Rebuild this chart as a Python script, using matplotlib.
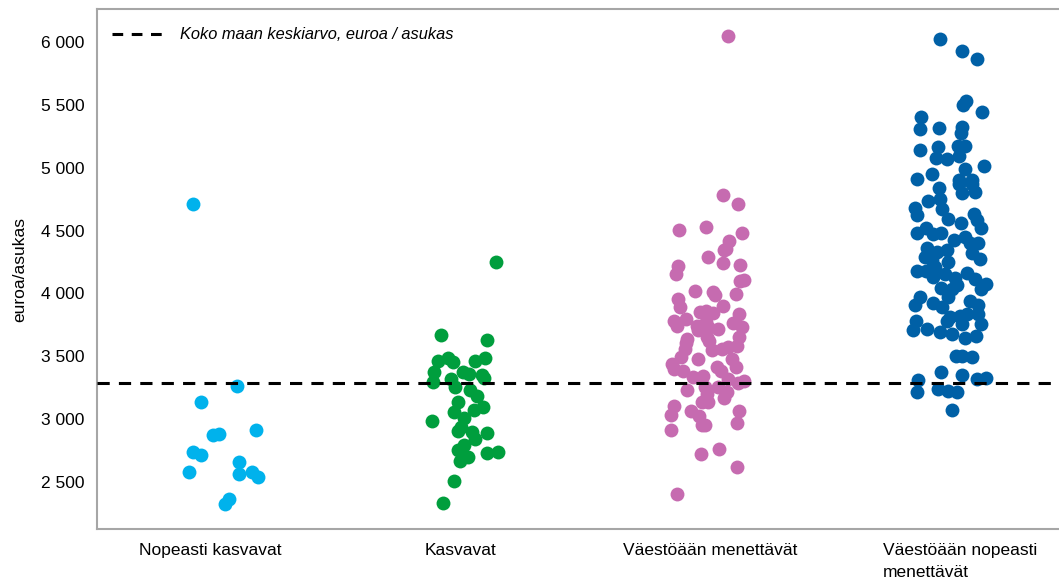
import numpy as np
import matplotlib
matplotlib.use("Agg")
import matplotlib.pyplot as plt
from matplotlib.lines import Line2D
from matplotlib.ticker import FuncFormatter

plt.rcParams["font.family"] = ["Liberation Sans", "DejaVu Sans"]

categories = ["Nopeasti kasvavat", "Kasvavat", "Väestöään menettävät",
              "Väestöään nopeasti\nmenettävät"]
colors = ["#00b2ec", "#009e3d", "#c66bb0", "#0060a6"]
national_mean = 3285
legend_label = "Koko maan keskiarvo, euroa / asukas"
y_label = "euroa/asukas"

# values (euroa/asukas) and horizontal jitter (category units) per group
vals_fast_growth = [4709, 3266, 3133, 2876, 2881, 2913, 2740, 2711, 2583, 2663,
                    2563, 2583, 2541, 2366, 2323]
jit_fast_growth = [-0.07, 0.107, -0.037, 0.013, 0.037, 0.183, -0.07, -0.037, -0.084, 0.117,
                   0.117, 0.167, 0.191, 0.077, 0.06]

vals_growth = [4252, 3670, 3630, 3466, 3487, 3452, 3460, 3487, 3372, 3298,
               3319, 3258, 3378, 3359, 3354, 3327, 3232, 3187, 3133, 3059,
               3072, 3099, 2985, 3009, 2940, 2902, 2894, 2841, 2886, 2796,
               2754, 2695, 2669, 2727, 2735, 2509, 2331]
jit_growth = [0.145, -0.076, 0.107, -0.089, -0.049, -0.027, 0.06, 0.1, -0.104, -0.109,
              -0.036, -0.02, 0.011, 0.036, 0.089, 0.097, 0.04, 0.069, -0.007, -0.023,
              0.056, 0.093, -0.111, 0.017, 0.004, -0.007, 0.047, 0.06, 0.107, 0.017,
              -0.009, 0.033, 0.0, 0.107, 0.153, -0.023, -0.067]

vals_decline = [6050, 4786, 4709, 4504, 4528, 4483, 4416, 4356, 4342, 4286,
                4244, 4228, 4217, 4157, 4098, 4103, 4023, 4010, 3984, 3992,
                3957, 3890, 3896, 3851, 3864, 3842, 3838, 3784, 3744, 3798,
                3744, 3705, 3771, 3731, 3718, 3763, 3731, 3638, 3603, 3651,
                3619, 3651, 3585, 3546, 3559, 3577, 3559, 3492, 3479, 3439,
                3399, 3386, 3412, 3386, 3479, 3412, 3333, 3346, 3319, 3306,
                3284, 3232, 3253, 3200, 3253, 3213, 3168, 3133, 3133, 3101,
                3035, 3061, 3027, 2955, 2955, 3067, 2966, 2913, 2722, 2762,
                2623, 2408]
jit_decline = [0.073, 0.053, 0.111, -0.123, -0.016, 0.129, 0.075, 0.064, 0.056, -0.008,
               0.053, 0.12, -0.129, -0.137, 0.12, 0.137, -0.06, 0.011, 0.02, 0.104,
               -0.127, -0.12, 0.051, -0.04, -0.016, 0.011, 0.117, -0.143, -0.131, -0.096,
               -0.053, -0.047, -0.016, -0.007, 0.033, 0.091, 0.127, -0.093, -0.096, -0.011,
               -0.003, 0.117, 0.109, 0.007, 0.047, 0.073, -0.1, -0.116, -0.047, -0.153,
               -0.144, -0.109, 0.029, 0.043, 0.087, 0.104, -0.069, -0.029, 0.073, 0.136,
               0.113, -0.093, -0.02, -0.011, 0.031, 0.067, 0.056, -0.033, -0.007, -0.144,
               -0.156, -0.077, -0.044, -0.033, -0.02, 0.117, 0.107, -0.156, -0.037, 0.037,
               0.107, -0.131]

vals_fast_decline = [6024, 5931, 5862, 5532, 5500, 5440, 5405, 5309, 5317, 5320,
                     5277, 5139, 5161, 5078, 5065, 5174, 5174, 5091, 5017, 4993,
                     4953, 4913, 4900, 4900, 4839, 4873, 4799, 4873, 4807, 4735,
                     4754, 4674, 4682, 4621, 4589, 4560, 4629, 4581, 4523, 4480,
                     4520, 4472, 4480, 4422, 4448, 4400, 4400, 4363, 4293, 4329,
                     4342, 4321, 4276, 4263, 4209, 4249, 4178, 4178, 4130, 4152,
                     4120, 4045, 4165, 4112, 4077, 4037, 4037, 4063, 3970, 3970,
                     3904, 3922, 3890, 3943, 3904, 3811, 3817, 3833, 3838, 3758,
                     3779, 3705, 3718, 3691, 3784, 3678, 3753, 3646, 3665, 3506,
                     3500, 3492, 3372, 3351, 3319, 3330, 3311, 3213, 3240, 3224,
                     3213, 3072]
jit_fast_decline = [-0.081, 0.007, 0.069, 0.024, 0.013, 0.087, -0.155, -0.16, -0.085, 0.007,
                    0.003, -0.161, -0.087, -0.096, -0.051, -0.007, 0.02, -0.003, 0.097, 0.02,
                    -0.113, -0.171, -0.003, 0.048, -0.083, -0.003, 0.007, 0.047, 0.06, -0.127,
                    -0.08, -0.073, -0.18, -0.171, -0.047, 0.003, 0.056, 0.069, 0.083, -0.171,
                    -0.136, -0.107, -0.077, -0.024, 0.02, 0.04, 0.073, -0.131, -0.14, -0.091,
                    -0.053, 0.047, 0.08, -0.113, -0.1, -0.047, -0.173, -0.136, -0.109, -0.06,
                    -0.02, -0.077, 0.027, 0.06, 0.104, 0.083, -0.033, -0.013, -0.047, -0.16,
                    -0.18, -0.107, -0.073, 0.04, 0.073, -0.04, 0.0, 0.029, 0.073, 0.083,
                    -0.176, -0.187, -0.133, -0.08, -0.051, -0.033, 0.007, 0.02, 0.064, -0.016,
                    0.007, 0.047, -0.076, 0.009, 0.067, 0.104, -0.169, -0.171, -0.089, -0.047,
                    -0.013, -0.032]

groups = [
    (vals_fast_growth, jit_fast_growth),
    (vals_growth, jit_growth),
    (vals_decline, jit_decline),
    (vals_fast_decline, jit_fast_decline),
]

fig = plt.figure(figsize=(10.59, 5.88), dpi=100)
ax = fig.add_axes([0.0916, 0.1003, 0.9084, 0.8844])

for i, ((vals, jit), col) in enumerate(zip(groups, colors)):
    x = i + np.asarray(jit)
    ax.scatter(x, vals, s=100, color=col, linewidths=0, zorder=3)

ax.axhline(national_mean, color="black", lw=2.2, ls=(0, (4, 3)), zorder=4)

ax.set_xlim(-0.452, 3.396)
ax.set_ylim(2126, 6262)
ax.set_xticks(range(len(categories)))
ax.set_xticklabels(categories, fontsize=12.5, linespacing=1.6)
for lbl in ax.get_xticklabels():
    lbl.set_multialignment("left")
ax.set_yticks([2500, 3000, 3500, 4000, 4500, 5000, 5500, 6000])
ax.yaxis.set_major_formatter(FuncFormatter(lambda v, p: f"{int(v):,}".replace(",", " ")))
ax.tick_params(axis="y", length=0, pad=9, labelsize=12.5)
ax.tick_params(axis="x", length=0, pad=10)
ax.set_ylabel(y_label, fontsize=12.5, labelpad=10)

for side in ["left", "top", "bottom"]:
    ax.spines[side].set_color("#a6a6a6")
    ax.spines[side].set_linewidth(1.5)
ax.spines["right"].set_visible(False)

handle = Line2D([], [], color="black", lw=2.2, ls=(0, (3.5, 2.8)))
ax.legend([handle], [legend_label], loc="upper left", bbox_to_anchor=(0.0, 0.993),
          frameon=False, handlelength=3.4, handletextpad=0.75,
          prop={"style": "italic", "size": 11.8})

fig.savefig("out.png", dpi=100)
